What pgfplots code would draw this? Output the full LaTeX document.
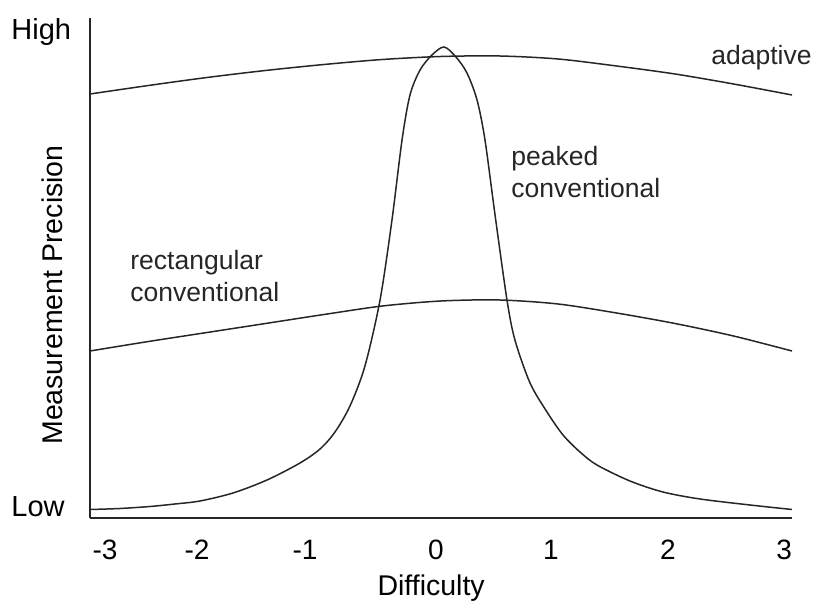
\documentclass[border=0pt]{standalone}
\usepackage{fontspec}
\setmainfont{Liberation Sans}
\usepackage{pgfplots}
\pgfplotsset{compat=1.18}
\pgfplotsset{curve/.style={black!85, line width=0.75pt, smooth, no markers}}

\begin{document}
\begin{tikzpicture}
\begin{axis}[
    scale only axis, width=351pt, height=250pt,
    xmin=-3, xmax=3, ymin=0, ymax=1,
    axis x line=bottom, axis y line=left,
    axis line style={-, line width=0.75pt, black!85},
    major tick length=0pt,
    xtick={-2.872,-2.085,-1.162,-0.043,0.940,1.940,2.932},
    xticklabels={-3,-2,-1,0,1,2,3},
    xticklabel style={anchor=base, inner sep=0pt, yshift=-21pt, font=\fontsize{14}{16}\selectfont},
    ytick={0.002,0.956},
    yticklabels={Low,High},
    yticklabel style={anchor=base west, inner sep=0pt, xshift=-39.5pt, font=\fontsize{14.5}{16}\selectfont},
    xlabel={Difficulty},
    xlabel style={at={(axis description cs:0.486,-0.154)}, anchor=base, inner sep=0pt, font=\fontsize{14.25}{16}\selectfont},
    ylabel={Measurement Precision},
    ylabel style={at={(axis description cs:-0.0385,0.446)}, anchor=base, inner sep=0pt, font=\fontsize{14.25}{16}\selectfont},
    clip=false,
]
% adaptive
\addplot[curve] coordinates {(-3,0.848)(-2.5,0.865)(-2,0.881)(-1.5,0.895)(-1,0.907)(-0.5,0.917)(0,0.923)(0.5,0.924)(1,0.918)(1.5,0.904)(2,0.888)(2.5,0.868)(3,0.846)};
% rectangular conventional
\addplot[curve] coordinates {(-3,0.334)(-2.5,0.353)(-2,0.371)(-1.5,0.389)(-1,0.407)(-0.5,0.424)(0,0.434)(0.5,0.436)(1,0.428)(1.5,0.410)(2,0.389)(2.5,0.364)(3,0.334)};
% peaked conventional
\addplot[curve] coordinates {(-3,0.017)(-2.744,0.019)(-2.487,0.023)(-2.274,0.028)(-2.060,0.034)(-1.778,0.050)(-1.487,0.076)(-1.205,0.110)(-1.034,0.138)(-0.906,0.172)(-0.778,0.224)(-0.650,0.304)(-0.521,0.436)(-0.419,0.596)(-0.333,0.756)(-0.265,0.846)(-0.179,0.896)(-0.077,0.926)(0.026,0.942)(0.128,0.922)(0.222,0.890)(0.308,0.836)(0.376,0.756)(0.462,0.606)(0.564,0.436)(0.632,0.356)(0.761,0.270)(0.906,0.212)(1.043,0.166)(1.188,0.132)(1.333,0.106)(1.615,0.074)(1.897,0.052)(2.214,0.038)(2.641,0.026)(3,0.017)};

\begin{scope}[every node/.style={anchor=base west, inner sep=0pt, font=\fontsize{13.25}{15}\selectfont, text=black!85}]
\node at (axis cs:2.308,0.906) {adaptive};
\node at (axis cs:0.598,0.704) {peaked};
\node at (axis cs:0.598,0.640) {conventional};
\node at (axis cs:-2.658,0.496) {rectangular};
\node at (axis cs:-2.658,0.432) {conventional};
\end{scope}
\end{axis}
\pgfresetboundingbox
\path ([xshift=-45pt,yshift=-43pt]current axis.south west) rectangle ([xshift=10.5pt,yshift=9pt]current axis.north east);
\end{tikzpicture}
\end{document}
